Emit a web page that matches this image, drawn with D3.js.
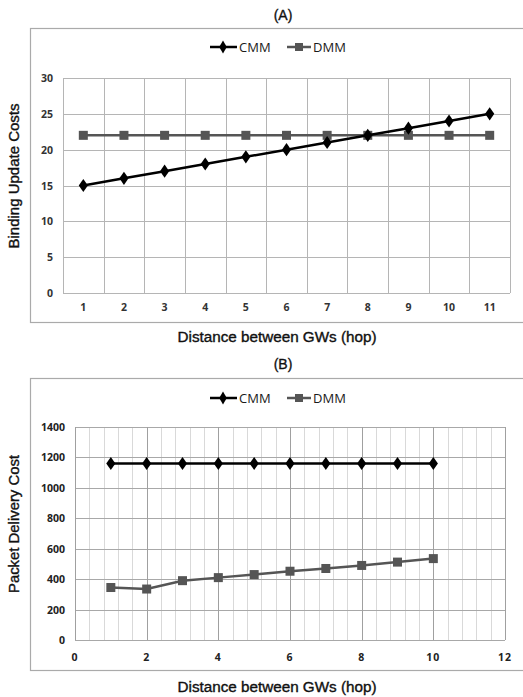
<!DOCTYPE html>
<html><head><meta charset="utf-8">
<script src="https://cdn.jsdelivr.net/npm/d3@7"></script>
<style>body{margin:0;background:#fff}svg{display:block}</style>
</head><body>
<svg id="c" width="523" height="697"></svg>
<script>
// Chart A data
const hopsA = [1,2,3,4,5,6,7,8,9,10,11];
const cmmA = [15,16,17,18,19,20,21,22,23,24,25];
const dmmA = [22,22,22,22,22,22,22,22,22,22,22];
const yTicksA = [0,5,10,15,20,25,30];
// Chart B data
const hopsB = [1,2,3,4,5,6,7,8,9,10];
const cmmB = [1160,1160,1160,1160,1160,1160,1160,1160,1160,1160];
const dmmB = [345,335,390,410,430,452,470,490,512,535];
const yTicksB = [0,200,400,600,800,1000,1200,1400];
const xTicksB = [0,2,4,6,8,10,12];

const svg = d3.select("#c");
const tickFont = "'Open Sans', 'DejaVu Sans', sans-serif";
const titleFont = "'Liberation Sans', Arial, sans-serif";
const cmmColor = "#000", dmmColor = "#555";

function titleText(sel){
  return sel.attr("font-family",titleFont).attr("font-size",14).attr("fill","#111")
    .attr("stroke","#111").attr("stroke-width",0.35);
}

function legend(y){
  const g = svg.append("g");
  g.append("line").attr("x1",210).attr("x2",237).attr("y1",y).attr("y2",y).attr("stroke",cmmColor).attr("stroke-width",2.5);
  g.append("path").attr("d",d3.symbol(d3.symbolDiamond,50)()).attr("transform",`translate(223,${y})`).attr("fill",cmmColor);
  g.append("text").attr("x",239).attr("y",y+4.5).text("CMM").attr("font-family",tickFont).attr("font-size",13).attr("fill","#1a1a1a");
  g.append("line").attr("x1",287).attr("x2",311).attr("y1",y).attr("y2",y).attr("stroke",dmmColor).attr("stroke-width",2.5);
  g.append("rect").attr("x",295).attr("y",y-4).attr("width",8).attr("height",8).attr("fill",dmmColor);
  g.append("text").attr("x",313).attr("y",y+4.5).text("DMM").attr("font-family",tickFont).attr("font-size",13).attr("fill","#1a1a1a");
}

function series(g, xs, ys, x, y, color, kind){
  const line = d3.line().x((d,i)=>x(xs[i])).y(d=>y(d));
  g.append("path").datum(ys).attr("d",line).attr("fill","none").attr("stroke",color).attr("stroke-width",2.5);
  ys.forEach((v,i)=>{
    if(kind==="diamond"){
      g.append("path").attr("d",d3.symbol(d3.symbolDiamond,55)()).attr("transform",`translate(${x(xs[i])},${y(v)}) scale(1.15,0.95)`).attr("fill",color);
    } else {
      g.append("rect").attr("x",x(xs[i])-4.5).attr("y",y(v)-4.5).attr("width",9).attr("height",9).attr("fill",color);
    }
  });
}

// ---------- Chart A ----------
titleText(svg.append("text").attr("x",283).attr("y",20).attr("text-anchor","middle").text("(A)"));
svg.append("rect").attr("x",30.5).attr("y",28.5).attr("width",520).attr("height",294).attr("fill","none").attr("stroke","#aaa").attr("stroke-width",1.2);
legend(47);

const xA = d3.scaleBand().domain(hopsA).range([63,510]);
const yA = d3.scaleLinear().domain([0,30]).range([293,78]);
const gA = svg.append("g");
yTicksA.forEach(t=>{
  gA.append("line").attr("x1",63).attr("x2",510).attr("y1",Math.round(yA(t))+0.5).attr("y2",Math.round(yA(t))+0.5).attr("stroke","#b5b5b5").attr("stroke-width",1);
});
hopsA.concat([null]).forEach(h=>{
  const xx = h===null ? 510 : xA(h);
  gA.append("line").attr("x1",Math.round(xx)+0.5).attr("x2",Math.round(xx)+0.5).attr("y1",78).attr("y2",293).attr("stroke","#b5b5b5").attr("stroke-width",1);
});
yTicksA.forEach(t=>{
  gA.append("text").attr("x",53).attr("y",yA(t)+4).attr("text-anchor","end").text(t)
    .attr("font-family",tickFont).attr("font-size",10.5).attr("font-weight","bold").attr("fill","#333");
});
hopsA.forEach(h=>{
  gA.append("text").attr("x",xA(h)+xA.bandwidth()/2).attr("y",311).attr("text-anchor","middle").text(h)
    .attr("font-family",tickFont).attr("font-size",10.5).attr("font-weight","bold").attr("fill","#333");
});
const xAc = h=>xA(h)+xA.bandwidth()/2;
series(gA, hopsA, dmmA, xAc, yA, dmmColor, "square");
series(gA, hopsA, cmmA, xAc, yA, cmmColor, "diamond");
titleText(svg.append("text").attr("transform","translate(19,176) rotate(-90)").attr("text-anchor","middle").text("Binding Update Costs"))
  .attr("textLength",145).attr("lengthAdjust","spacingAndGlyphs");
titleText(svg.append("text").attr("x",277).attr("y",342).attr("text-anchor","middle").text("Distance between GWs (hop)"))
  .attr("textLength",199).attr("lengthAdjust","spacingAndGlyphs");

// ---------- Chart B ----------
titleText(svg.append("text").attr("x",283).attr("y",369).attr("text-anchor","middle").text("(B)"));
svg.append("rect").attr("x",30.5).attr("y",378.5).attr("width",520).attr("height",292).attr("fill","none").attr("stroke","#aaa").attr("stroke-width",1.2);
legend(398);

const xB = d3.scaleLinear().domain([0,12]).range([75,505]);
const yB = d3.scaleLinear().domain([0,1400]).range([640,427]);
const gB = svg.append("g");
d3.range(0,12.0001,0.4).forEach(t=>{
  gB.append("line").attr("x1",Math.round(xB(t))+0.5).attr("x2",Math.round(xB(t))+0.5).attr("y1",427).attr("y2",640).attr("stroke","#d9d9d9").attr("stroke-width",1);
});
yTicksB.forEach(t=>{
  gB.append("line").attr("x1",75).attr("x2",505).attr("y1",Math.round(yB(t))+0.5).attr("y2",Math.round(yB(t))+0.5).attr("stroke","#a8a8a8").attr("stroke-width",1);
});
xTicksB.forEach(t=>{
  gB.append("line").attr("x1",Math.round(xB(t))+0.5).attr("x2",Math.round(xB(t))+0.5).attr("y1",427).attr("y2",640).attr("stroke","#a0a0a0").attr("stroke-width",1);
});
yTicksB.forEach(t=>{
  gB.append("text").attr("x",65).attr("y",yB(t)+4).attr("text-anchor","end").text(t)
    .attr("font-family",tickFont).attr("font-size",10.5).attr("font-weight","bold").attr("fill","#222");
});
xTicksB.forEach(t=>{
  gB.append("text").attr("x",xB(t)).attr("y",661).attr("text-anchor","middle").text(t)
    .attr("font-family",tickFont).attr("font-size",10.5).attr("font-weight","bold").attr("fill","#222").attr("letter-spacing",1);
});
series(gB, hopsB, dmmB, xB, yB, dmmColor, "square");
series(gB, hopsB, cmmB, xB, yB, cmmColor, "diamond");
titleText(svg.append("text").attr("transform","translate(19,524) rotate(-90)").attr("text-anchor","middle").text("Packet Delivery Cost"))
  .attr("textLength",138).attr("lengthAdjust","spacingAndGlyphs");
titleText(svg.append("text").attr("x",277).attr("y",692).attr("text-anchor","middle").text("Distance between GWs (hop)"))
  .attr("textLength",199).attr("lengthAdjust","spacingAndGlyphs");
</script>
</body></html>
